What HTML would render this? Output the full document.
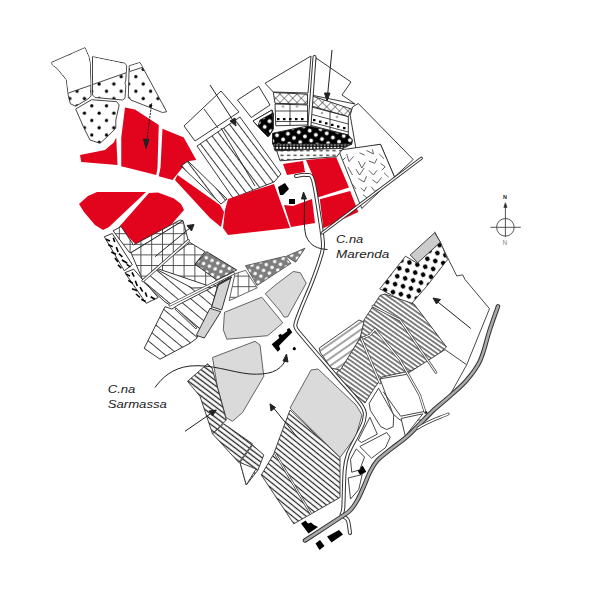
<!DOCTYPE html>
<html><head><meta charset="utf-8">
<style>
html,body{margin:0;padding:0;background:#fff;width:600px;height:600px;overflow:hidden}
svg{display:block}
text{font-family:"Liberation Sans",sans-serif;font-style:italic}
</style></head><body>
<svg width="600" height="600" viewBox="0 0 600 600">
<defs>
<pattern id="dots" width="14.7" height="14.6" patternUnits="userSpaceOnUse">
<rect width="14.7" height="14.6" fill="#fff"/>
<circle cx="3.6" cy="3.6" r="1.65" fill="#000"/><circle cx="10.95" cy="10.9" r="1.65" fill="#000"/>
</pattern>
<pattern id="stripes" width="7" height="7" patternUnits="userSpaceOnUse" patternTransform="rotate(53)">
<rect width="7" height="7" fill="#fff"/>
<line x1="0" y1="3.5" x2="7" y2="3.5" stroke="#222" stroke-width="0.9"/>
</pattern>
<pattern id="xhatch" width="6" height="6" patternUnits="userSpaceOnUse" patternTransform="rotate(45)">
<rect width="6" height="6" fill="#fff"/>
<line x1="0" y1="0" x2="6" y2="0" stroke="#222" stroke-width="1"/>
<line x1="0" y1="0" x2="0" y2="6" stroke="#222" stroke-width="1"/>
</pattern>
<pattern id="bdots" width="11" height="10" patternUnits="userSpaceOnUse" patternTransform="rotate(-8)">
<rect width="11" height="10" fill="#000"/>
<circle cx="2.5" cy="2.5" r="1.9" fill="#fff"/><circle cx="8" cy="7.5" r="1.9" fill="#fff"/>
</pattern>
<pattern id="checker" width="3.4" height="3.4" patternUnits="userSpaceOnUse">
<rect width="3.4" height="3.4" fill="#111"/>
<circle cx="1.7" cy="1.7" r="1.15" fill="#fff"/>
</pattern>
<pattern id="dashes" width="6.5" height="4.5" patternUnits="userSpaceOnUse">
<rect width="6.5" height="4.5" fill="#fff"/>
<rect x="1" y="1.6" width="3.2" height="1.3" fill="#333"/>
</pattern>
<pattern id="sq" width="6" height="10" patternUnits="userSpaceOnUse">
<rect width="6" height="10" fill="#fff"/>
<rect x="1" y="4" width="3" height="2.2" fill="#000"/>
</pattern>
<pattern id="grid" width="10.8" height="10.6" patternUnits="userSpaceOnUse">
<rect width="10.8" height="10.6" fill="#fff"/>
<line x1="0.5" y1="0" x2="0.5" y2="10.6" stroke="#444" stroke-width="0.9"/>
<line x1="0" y1="0.5" x2="10.8" y2="0.5" stroke="#444" stroke-width="0.9"/>
</pattern>
<pattern id="gdots" width="9" height="9" patternUnits="userSpaceOnUse" patternTransform="rotate(-20)">
<rect width="9" height="9" fill="#7d7d7d"/>
<circle cx="2.2" cy="2.2" r="1.8" fill="#fff"/><circle cx="6.7" cy="6.7" r="1.8" fill="#fff"/>
</pattern>
<pattern id="bdash" width="7" height="10" patternUnits="userSpaceOnUse" patternTransform="rotate(57)">
<rect width="7" height="10" fill="#fff"/>
<path d="M0.8,1.5 l4.2,0.8 M3.5,5.5 l0.3,4 M0.5,8 l2,-2.5" stroke="#000" stroke-width="1.6" stroke-linecap="butt"/>
</pattern>
<pattern id="vpat" width="12" height="12" patternUnits="userSpaceOnUse">
<rect width="12" height="12" fill="#fff"/>
<path d="M1,2 l2,4 l2,-4 M7,8 l2,3 l2,-4" stroke="#222" stroke-width="0.8" fill="none"/>
</pattern>
<pattern id="stripes2" width="3.7" height="3.7" patternUnits="userSpaceOnUse" patternTransform="rotate(35)">
<rect width="3.7" height="3.7" fill="#fff"/>
<rect x="0" y="1.25" width="3.7" height="1.1" fill="#222"/>
</pattern>
<pattern id="stripes3" width="4.3" height="4.3" patternUnits="userSpaceOnUse" patternTransform="rotate(39)">
<rect width="4.3" height="4.3" fill="#fff"/>
<rect x="0" y="1.55" width="4.3" height="1.2" fill="#222"/>
</pattern>
<pattern id="stripes4" width="4.2" height="4.2" patternUnits="userSpaceOnUse" patternTransform="rotate(37)">
<rect width="4.2" height="4.2" fill="#fff"/>
<rect x="0" y="1.4" width="4.2" height="1.3" fill="#222"/>
</pattern>
<pattern id="dots2" width="11.6" height="11.6" patternUnits="userSpaceOnUse" patternTransform="rotate(-30)">
<rect width="11.6" height="11.6" fill="#fff"/>
<circle cx="2.9" cy="2.9" r="2.3" fill="#000"/><circle cx="8.7" cy="8.7" r="2.3" fill="#000"/>
</pattern>
<pattern id="stripes5" width="6" height="6" patternUnits="userSpaceOnUse" patternTransform="rotate(-35)">
<rect width="6" height="6" fill="#fff"/>
<line x1="0" y1="3" x2="6" y2="3" stroke="#333" stroke-width="0.9"/>
</pattern>
<pattern id="stripes6" width="8.5" height="8.5" patternUnits="userSpaceOnUse" patternTransform="rotate(40)">
<rect width="8.5" height="8.5" fill="#fff"/>
<line x1="0" y1="4.25" x2="8.5" y2="4.25" stroke="#333" stroke-width="0.9"/>
</pattern>
</defs>
<rect width="600" height="600" fill="#fff"/>
<g stroke="#333" stroke-width="0.9" stroke-linejoin="round">
<polygon fill="url(#dots)" points="51.7,62.3 85,47.7 89,57 90.3,63.7 91,95.7 89,98.3 75.7,106.3 70.3,103.7 68.3,95.7 66.3,79.7 57,68.3 52.3,65"/>
<polygon fill="url(#dots)" points="92.5,56.7 125,63.3 126.7,65.8 125.8,80 125,83.3 125.8,85.8 125,98.3 122.5,100 95,97.5 92.5,95"/>
<polygon fill="url(#dots)" points="129.2,65.8 140,62.5 166.7,111.7 162.5,112.5 130.8,100 128.3,97.5"/>
<polygon fill="url(#dots)" points="75.7,109 91.7,99.7 116.7,101.7 119.2,105 115.8,120 115.8,128.3 108.3,135.8 100,143.3 90,140 83.7,127.5"/>
</g>
<g stroke="none" fill="#fff">
<polygon points="52.2,62.8 84.7,48.3 88.5,57 89.8,63.7 90.5,85.5 68.6,92.8 66.8,79.7 57.4,68 52.8,65"/>
<polygon points="93,57.2 124.6,63.8 126.2,65.9 125.3,72.9 93,84.4"/>
<polygon points="129.7,66.2 139.7,63.1 142.3,67.5 130.2,71.4"/>
</g>
<g stroke="#333" stroke-width="0.9">
<line x1="68.5" y1="93" x2="91" y2="85.2"/>
<line x1="92.5" y1="84.6" x2="126" y2="72.8"/>
<line x1="129.5" y1="71.6" x2="142.5" y2="67.3"/>
</g>
<g fill="#e2031c" stroke="none">
<!-- R1 -->
<polygon points="80,155 105,150 113.75,142.5 116.25,137.5 117.5,165 81.25,162"/>
<!-- R2 -->
<polygon points="125,107.5 135,109.5 158.75,125 157.5,167.5 156.25,175 121.25,166.25 121.25,137.5"/>
<!-- R3 -->
<polygon points="162.5,128.75 183.75,137.5 196.25,160 187.5,161.25 172.5,180 158.75,176.25 160.5,167.5"/>
<!-- R10 -->
<polygon points="79,204 88,196 97,192 146,192 109,227 103,230 95,225 84,212"/>
<!-- R11 -->
<polygon points="119,227 149,193 158,192.5 174,198.5 181,204 184,210 170,226 136,245"/>
</g>
<g stroke="#222" stroke-width="1" fill="none">
<line x1="151.7" y1="103.3" x2="146" y2="146" stroke-dasharray="2.2,1"/>
<polygon points="143.5,139 146,148.5 149,139.5" fill="#222"/>
</g>
<g stroke="#222" stroke-width="0.9" stroke-linejoin="round">
<!-- W pair -->
<polygon fill="#fff" points="184,126 221,91 239,112 195,141"/>
<line x1="204" y1="109" x2="218" y2="128"/>
<!-- S1 striped -->
<polygon fill="url(#stripes)" points="197,146 240,117 281,174 274,182 233,198"/>
<line x1="221" y1="128" x2="255" y2="186"/>
<!-- S2 strip -->
<polygon fill="url(#stripes)" points="181,166 188,161 227,199 221,204"/>
<!-- W top3 -->
<polygon fill="#fff" points="237.5,100 258.75,86.25 270,105 251.25,117.5"/>
<!-- black small parcel -->
<polygon fill="#000" points="253,121 272,110 273.5,114 273,130 268,137 262,131"/>
<polygon fill="#fff" points="253,121 272,110 272.5,117 258,126"/>
<!-- W big -->
<polygon fill="#fff" points="265,83.3 311,56 308,93 273.3,92"/>
<polygon fill="#fff" points="316,58 351,82 342,95 355,104 311,95"/>
<!-- W big right -->
<polygon fill="#fff" points="358.3,103.5 413.2,159.5 394.5,177 380.5,144.3 356,149 350.2,115.2 352.5,107"/>
<polygon fill="#fff" points="338.5,150.2 380.5,144.3 394.5,177 361.8,208.5"/>
<path d="M346.7,154.0 L349.0,161.6 L353.7,156.3 M359.5,152.8 L364.8,155.2 M366.5,150.5 L373.5,154.0 L372.3,149.3 M358.3,161.0 L361.8,168.0 L365.3,162.2 M368.8,161.0 L374.7,163.3 L377.0,158.7 M379.3,154.0 L384.0,158.7 M347.8,166.8 L352.5,175.0 M356.0,169.2 L359.5,175.0 L364.2,168.0 M368.8,170.3 L373.5,175.0 L377.0,170.3 M380.5,163.3 L385.2,166.8 L381.7,170.3 M358.3,178.5 L364.2,182.0 L366.5,176.2 M372.3,179.7 L377.0,183.2 L381.7,177.3 M384.0,172.7 L388.7,177.3 M360.7,187.8 L364.2,191.3 L366.5,186.7 M371.2,186.7 L374.7,191.3 L379.3,189.0 M363.0,194.8 L367.7,198.3 M342.0,161.0 L345.5,157.5 M352.5,184.3 L356.0,189.0" stroke="#555" stroke-width="0.9" fill="none"/>
</g>
<g fill="#e2031c" stroke="none">
<!-- R4 strip -->
<polygon points="177.5,175 220,205 224,212 221,227 210,218 175,180"/>
<!-- R12 -->
<polygon points="228,199 274,184 290,228 228,235 223,228 225,210"/>
<!-- R9 -->
<polygon points="284,205 293,206 301,203 312,199 315,223 291,227"/>
<!-- R13 -->
<polygon points="283,164 303,161 305,172 287,175"/>
<!-- R6 -->
<polygon points="306,160 336.2,157.2 349,187.5 316,198 312,174"/>
<!-- R7 -->
<polygon points="319.8,199.2 350.2,191 358.3,212 323.3,228.3"/>
</g>
<g fill="#000">
<polygon points="278,187 285,183 289,189 283,195 280,195"/>
<rect x="289" y="199" width="6" height="5"/>
</g>
<g stroke="#222" stroke-width="1" fill="none">
<line x1="210" y1="85" x2="234" y2="122"/>
<polygon points="230,121 236,126 235,118" fill="#222"/>
</g>
<g stroke="#222" stroke-width="0.9" stroke-linejoin="round">
<polygon fill="url(#xhatch)" points="273.3,92.5 307.5,94.2 307.5,104.2 275,103.3"/>
<polygon fill="url(#xhatch)" points="311.7,95.8 351.7,109.2 348.3,116.7 310.8,105.8"/>
<polygon fill="#fff" points="275,104 307.5,105 307.5,125 275.8,125.8"/>
<polygon fill="#fff" points="310.8,106.7 348.3,116.7 348.3,135 309.2,125"/>
<polygon fill="url(#bdots)" points="272.5,133.3 308.3,125.8 348.3,135 352.5,140 351.7,144.2 272.5,144.2"/>
<polygon fill="url(#checker)" points="273.3,144.2 351.7,144.2 343.3,148.3 275,150.8"/>
<polygon fill="url(#dashes)" points="276.7,150.8 343.3,148.3 336.7,156.7 280,160.8"/>
<polygon fill="url(#bdots)" points="260,120 272.5,113.3 273.3,128.3 269.2,135.8 258,126"/>
</g>
<g stroke="#222" stroke-width="0.8">
<line x1="275.5" y1="111" x2="307.5" y2="111"/>
<line x1="275.8" y1="121.5" x2="307.5" y2="121.5"/>
<line x1="290" y1="104" x2="290" y2="125"/>
<line x1="310" y1="114" x2="348.3" y2="124"/>
<line x1="310" y1="122" x2="348.3" y2="132"/>
<line x1="330" y1="111" x2="330" y2="130"/>
</g>
<g fill="#000">
<rect x="277" y="118" width="2.5" height="2.2"/><rect x="283" y="118" width="2.5" height="2.2"/><rect x="289" y="118" width="2.5" height="2.2"/><rect x="295" y="118" width="2.5" height="2.2"/><rect x="301" y="118" width="2.5" height="2.2"/>
<rect x="313" y="119" width="2.5" height="2.2"/><rect x="319" y="120.6" width="2.5" height="2.2"/><rect x="325" y="122.2" width="2.5" height="2.2"/><rect x="331" y="123.8" width="2.5" height="2.2"/><rect x="337" y="125.4" width="2.5" height="2.2"/><rect x="343" y="127" width="2.5" height="2.2"/>
</g>
<g fill="#aaa">
<circle cx="283" cy="106.5" r="1.3"/><circle cx="297" cy="106.5" r="1.3"/><circle cx="322" cy="113" r="1.3"/><circle cx="337" cy="117" r="1.3"/>
</g>
<g stroke="#222" stroke-width="0.9" stroke-linejoin="round">
<polygon fill="#fff" points="104.3,236.7 112.3,233.5 132.3,264.7 124.3,270.8"/>
<polygon fill="#fff" points="124.9,272.7 133.7,269.2 158.2,297.5 146.2,303.3"/>
<polygon fill="url(#grid)" points="113.1,230.8 121.1,226.5 133.5,245 180,220 183,220.7 131,252.7 129.1,252.1"/>
<polygon fill="url(#grid)" points="131.0,252.7 183.0,220.7 188.3,240.7 143.0,280.7"/>
<polygon fill="url(#grid)" points="155.8,268 190,242.5 205,251.7 195,264.2 216.7,278.3 213.3,287.5"/>
<polygon fill="url(#gdots)" points="195,264.2 206.7,251.7 236.7,270 216.7,280"/>
<polygon fill="url(#stripes6)" points="143.3,281.7 155,268.5 192,288 215,287.5 232,275 170,305 165,302"/>
<polygon fill="url(#stripes6)" points="144.2,348.3 165,306.7 172,309 178,305 232,277 218.3,283.3 211.7,307.5 196.7,338.3 190,343.3 160,359.2"/>
<polygon fill="#d4d4d4" points="218.3,285 230.8,278.3 221.7,310 211.7,306.7"/>
<polygon fill="#d4d4d4" points="210,308.3 220.8,311.7 204.3,338.0 196.3,335.3"/>
</g>
<path d="M106.0,239.3 L110.0,240.9 M113.3,237.7 L114.7,242.0 M108.3,244.7 L112.7,246.7 M116.3,247.1 L118.1,252.0 M111.3,252.0 L116.0,254.3 M118.9,253.7 L122.4,256.9 M114.9,258.0 L118.1,262.0 M122.0,260.0 L127.3,263.3 M118.0,264.7 L121.3,268.3 M126.7,264.4 L130.4,266.8 M126.0,274.0 L130.1,276.1 M132.0,272.4 L134.1,276.7 M128.3,280.4 L132.8,283.3 M135.3,280.7 L137.3,286.0 M132.0,288.7 L137.3,290.8 M140.0,287.1 L142.7,291.6 M136.0,294.0 L140.0,297.5 M145.3,292.4 L146.9,296.7 M141.3,299.3 L145.6,301.5 M150.7,296.7 L154.9,299.3" stroke="#000" stroke-width="1.6" fill="none"/>
<g fill="none" stroke-linecap="round">
<path d="M170,305 L233.3,273.3" stroke="#444" stroke-width="3"/>
<path d="M170,305 L233.3,273.3" stroke="#fff" stroke-width="1.5"/>
<path d="M176,309 L196,328" stroke="#444" stroke-width="2.4"/>
<path d="M176,309 L196,328" stroke="#fff" stroke-width="1"/>
<path d="M143,280.7 L188.3,240.7" stroke="#444" stroke-width="3"/>
<path d="M143,280.7 L188.3,240.7" stroke="#fff" stroke-width="1.5"/>
</g>
<g stroke="#222" stroke-width="1" fill="none">
<line x1="155" y1="256.7" x2="190" y2="228"/>
<polygon points="187,225.5 194,224.5 191.5,231" fill="#222"/>
</g>
<g stroke="#555" stroke-width="0.9" stroke-linejoin="round">
<polygon fill="url(#gdots)" points="245.5,265.7 285.2,256.3 291,263.3 257.2,285.5"/>
<polygon fill="url(#gdots)" points="286.3,256.3 305,248.2 295.7,262.2"/>
<polygon fill="url(#grid)" points="235,273.8 245.5,270.3 257.2,287.8 229.2,300.7"/>
<polygon fill="#dadada" points="265.3,293.7 274.7,285.5 293.3,271.5 300.3,272.7 306.2,283.2 287.5,317.0 284.0,317.0 279.3,310.0"/>
<polygon fill="#dadada" points="224.5,312.3 261.8,297.2 282.8,322.8 267.7,335.7 226.8,339.2 223.3,329.8"/>
<polygon fill="#dadada" points="212.5,357.5 255,341.3 260,345 263.8,376.3 242.5,412.5 232.5,421.3 226,417.5 217.5,387.5"/>
<polygon fill="#dadada" points="290,408 311,370 318,369 356,405 362,415 356,436 340,457.5"/>
</g>
<g fill="#000">
<polygon points="271.7,344.3 279.3,338 278.3,335.3 280.7,333.7 282,335 287.3,331.3 287,329.3 289.3,328 292.3,332.3 279,345.7 280.3,349.3 277.7,351.7"/>
<circle cx="294.3" cy="348.7" r="1.6"/>
<polygon points="301,523.5 305.5,520.5 308,523.5 311,522.5 314,525 318,527 308.5,533.5"/>
<polygon points="327,536.5 330,535 339,530 343,534.5 331.5,542.5"/>
<polygon points="315.5,543.5 320,540 324.5,546 319.5,550"/>
<rect x="358" y="467" width="7" height="7" transform="rotate(-30 361.5 470.5)"/>
</g>
<g stroke="#333" stroke-width="0.9" stroke-linejoin="round">
<polyline fill="none" points="434.7,231.7 447.5,257.3 456.8,276.0 462.7,274.8 465.0,279.5 489.5,308.7 466.7,364.8"/>
<polygon fill="#ccc" points="410.2,255.0 434.7,232.8 440.5,242.2 418.3,263.2"/>
<polygon fill="url(#dots2)" points="379.8,288.8 405.5,256.2 417.2,263.2 440.5,242.2 447.5,259.7 426.5,286.5 410.2,305.2"/>
<polygon fill="url(#stripes2)" points="336,374 348,356 360,338 364,320 380,295.5 385,294 414,304 446.5,347 427,364 410,371 382,377 373,390 365,403 352,392"/>
<polygon fill="url(#stripes5)" points="319.3,348 359,320 364,322 360,338 340.3,370.2 331,368 320,352"/>
<polygon fill="#fff" points="380,378.8 406,374.5 445,349.6 466.7,364.8 449.3,396.2 426.6,420 400,420 393,414"/>
<polygon fill="url(#stripes3)" points="261.3,475 273.8,453.8 278.8,440 290,410 340,457.5 340,497.5 293.8,523.8"/>
<path d="M275,453 L311,514" stroke="#444" stroke-width="2.4" fill="none"/>
<path d="M275,453 L311,514" stroke="#fff" stroke-width="1" fill="none"/>
<polygon fill="url(#stripes4)" points="187.5,381.3 207.5,363.8 212,368 217.5,387.5 226.3,420 212.5,433.8 200,396.3"/>
<polygon fill="url(#stripes4)" points="212.5,433.8 223.8,423.8 252.5,443.8 238.8,462.5"/>
<polygon fill="url(#stripes4)" points="240,462.5 252.5,445 263.8,455 258,470 246.3,485"/>
<polygon fill="#fff" points="240,462.5 256,469 246.3,485"/>
</g>
<g fill="none" stroke-linecap="round">
<path d="M372.9,306 L400,320 L436,372.5" stroke="#444" stroke-width="2.6"/>
<path d="M372.9,306 L400,320 L436,372.5" stroke="#fff" stroke-width="1.2"/>
<path d="M361.3,338.7 L370,335 L375,329.3 L400,360 L419.7,395 L425,412" stroke="#444" stroke-width="2.6"/>
<path d="M361.3,338.7 L370,335 L375,329.3 L400,360 L419.7,395 L425,412" stroke="#fff" stroke-width="1.2"/>
<path d="M361.3,338.7 L380,383" stroke="#444" stroke-width="2.6"/>
<path d="M361.3,338.7 L380,383" stroke="#fff" stroke-width="1.2"/>
</g>
<g stroke="#333" stroke-width="0.9" fill="none" stroke-linejoin="round">
<polygon fill="#fff" points="369.2,403.3 378.5,388.2 393.7,415.0 393.2,426.7 386.7,429.5 380.8,426.7 370.3,410.3"/>
<polygon fill="#fff" points="358.2,440.2 369.9,417.3 377.3,434.1 361.5,442.5"/>
<polygon fill="#fff" points="359.8,446.5 386.7,432.5 390.2,437.2 385.5,447.7 371.5,458.2"/>
<polygon fill="#fff" points="350.5,459.3 356.3,448.8 364.5,457.0 359.8,469.8 351.7,472.2"/>
<polygon fill="#fff" points="401.1,418.5 422.8,413.8 405.3,436.0"/>
<polyline fill="none" points="383.2,391.7 400.7,416.2 424,411.5"/>
<circle cx="426" cy="412.5" r="1" fill="#000"/>
<polygon fill="#fff" points="348.2,478.0 362.2,474.5 358.7,489.7 350.5,499.0"/>
</g>
<g fill="none" stroke-linecap="round" stroke-linejoin="round">
<!-- main road double line -->
<path d="M296.0,176.0 C297.7,175.8 303.2,174.3 306.0,175.0 C308.8,175.7 310.7,172.5 313.0,180.0 C315.3,187.5 318.3,209.3 320.0,220.0 C321.7,230.7 322.8,238.0 323.0,244.0 C323.2,250.0 322.8,249.7 321.0,256.0 C319.2,262.3 315.2,273.7 312.0,282.0 C308.8,290.3 304.7,299.3 302.0,306.0 C299.3,312.7 297.0,318.3 296.0,322.0 C295.0,325.7 295.0,325.7 296.0,328.0 C297.0,330.3 295.1,327.7 302.0,336.0 C308.9,344.3 327.7,366.0 337.7,377.7 C347.7,389.4 357.6,398.9 362.0,406.0 C366.4,413.1 364.7,415.3 364.0,420.0 C363.3,424.7 360.7,428.3 358.0,434.0 C355.3,439.7 350.2,448.0 348.0,454.0 C345.8,460.0 345.5,461.1 344.7,470.0 C343.9,478.9 343.8,500.0 343.3,507.5 C342.8,515.0 341.0,512.9 341.7,515.0 C342.4,517.1 346.3,517.0 347.7,520.0 C349.1,523.0 349.6,530.8 350.0,533.0" stroke="#333" stroke-width="4"/>
<path d="M296.0,176.0 C297.7,175.8 303.2,174.3 306.0,175.0 C308.8,175.7 310.7,172.5 313.0,180.0 C315.3,187.5 318.3,209.3 320.0,220.0 C321.7,230.7 322.8,238.0 323.0,244.0 C323.2,250.0 322.8,249.7 321.0,256.0 C319.2,262.3 315.2,273.7 312.0,282.0 C308.8,290.3 304.7,299.3 302.0,306.0 C299.3,312.7 297.0,318.3 296.0,322.0 C295.0,325.7 295.0,325.7 296.0,328.0 C297.0,330.3 295.1,327.7 302.0,336.0 C308.9,344.3 327.7,366.0 337.7,377.7 C347.7,389.4 357.6,398.9 362.0,406.0 C366.4,413.1 364.7,415.3 364.0,420.0 C363.3,424.7 360.7,428.3 358.0,434.0 C355.3,439.7 350.2,448.0 348.0,454.0 C345.8,460.0 345.5,461.1 344.7,470.0 C343.9,478.9 343.8,500.0 343.3,507.5 C342.8,515.0 341.0,512.9 341.7,515.0 C342.4,517.1 346.3,517.0 347.7,520.0 C349.1,523.0 349.6,530.8 350.0,533.0" stroke="#fff" stroke-width="2"/>
<!-- top vertical road -->
<path d="M314.5,57 L309.5,125" stroke="#333" stroke-width="4"/>
<path d="M314.5,57 L309.5,125" stroke="#fff" stroke-width="2"/>
<!-- NE road -->
<path d="M421.3,158.3 L322.2,233" stroke="#333" stroke-width="3.2"/>
<path d="M421.3,158.3 L322.2,233" stroke="#fff" stroke-width="1.4"/>
<!-- gray big road -->
<path d="M498.0,306.3 C496.6,310.2 492.7,320.9 489.7,330.0 C486.7,339.1 484.1,352.2 480.1,360.7 C476.2,369.2 471.1,375.1 466.0,381.0 C460.9,386.9 455.1,391.4 449.7,396.3 C444.2,401.2 438.0,406.0 433.3,410.3 C428.6,414.6 426.0,417.7 421.7,422.0 C417.4,426.3 412.8,431.5 407.7,436.0 C402.6,440.5 396.4,444.7 391.3,448.8 C386.2,452.9 380.9,456.6 377.3,460.5 C373.8,464.4 372.2,467.8 370.0,472.0 C367.8,476.2 366.1,481.3 364.0,486.0 C361.9,490.7 359.8,495.9 357.5,500.0 C355.2,504.1 353.0,507.5 350.0,510.5 C347.0,513.5 347.0,513.0 339.5,518.0 C332.0,523.0 310.8,536.8 305.0,540.5" stroke="#333" stroke-width="4.5"/>
<path d="M498.0,306.3 C496.6,310.2 492.7,320.9 489.7,330.0 C486.7,339.1 484.1,352.2 480.1,360.7 C476.2,369.2 471.1,375.1 466.0,381.0 C460.9,386.9 455.1,391.4 449.7,396.3 C444.2,401.2 438.0,406.0 433.3,410.3 C428.6,414.6 426.0,417.7 421.7,422.0 C417.4,426.3 412.8,431.5 407.7,436.0 C402.6,440.5 396.4,444.7 391.3,448.8 C386.2,452.9 380.9,456.6 377.3,460.5 C373.8,464.4 372.2,467.8 370.0,472.0 C367.8,476.2 366.1,481.3 364.0,486.0 C361.9,490.7 359.8,495.9 357.5,500.0 C355.2,504.1 353.0,507.5 350.0,510.5 C347.0,513.5 347.0,513.0 339.5,518.0 C332.0,523.0 310.8,536.8 305.0,540.5" stroke="#aaa" stroke-width="2.5"/>
<path d="M418,428 C430,420 442,417 448,414" stroke="#333" stroke-width="3"/>
<path d="M418,428 C430,420 442,417 448,414" stroke="#fff" stroke-width="1.4"/>
</g>
<g stroke="#222" stroke-width="1" fill="none">
<!-- Marenda arrow -->
<path d="M327.5,249.5 C318,249 310,246 306,236 C303,225 305,212 304.5,198"/>
<polygon points="301.5,199 303.5,192 306.5,199" fill="#222"/>
<!-- Sarmassa arrow -->
<path d="M155,387.5 C162,378 172,368 190,366 C212,364 230,372 250,374 C268,375 280,372 285.5,360"/>
<polygon points="283,361 286.5,354 288,362" fill="#222"/>
<!-- top-right arrow -->
<line x1="332" y1="50" x2="327.5" y2="96"/>
<polygon points="324.5,93 327,101 330,93" fill="#222"/>
<!-- right arrow -->
<line x1="470.8" y1="328.5" x2="436" y2="300.5"/>
<polygon points="433,298 440.5,299.5 436.5,304" fill="#222"/>
<!-- SL arrow -->
<line x1="185" y1="431.3" x2="213" y2="412"/>
<polygon points="216.3,410 209,411 212.5,416" fill="#222"/>
<!-- center arrow -->
<line x1="297.5" y1="437.5" x2="272" y2="406"/>
<polygon points="270,403.8 271,411 275.5,407.5" fill="#222"/>
</g>
<!-- compass -->
<g stroke="#444" stroke-width="0.9" fill="none">
<circle cx="505.4" cy="227.3" r="8.8"/>
<line x1="490.5" y1="227.3" x2="520.8" y2="227.3"/>
<line x1="505.4" y1="206" x2="505.4" y2="237.2"/>
<polygon points="503.9,207.4 505.4,202.8 507,207.4" fill="#222"/>
</g>
<text x="503" y="199" style="font-style:normal;font-weight:bold" font-size="5.5" fill="#222">N</text>
<text x="502.6" y="245" style="font-style:normal" font-size="6.5" fill="#888">N</text>
<g fill="#222" font-size="11">
<text x="336" y="243" textLength="27.3" lengthAdjust="spacingAndGlyphs">C.na</text>
<text x="336" y="257.7" textLength="53.3" lengthAdjust="spacingAndGlyphs">Marenda</text>
<text x="107.7" y="393.2" textLength="27.7" lengthAdjust="spacingAndGlyphs">C.na</text>
<text x="107.7" y="407.5" textLength="59.2" lengthAdjust="spacingAndGlyphs">Sarmassa</text>
</g>
</svg>
</body></html>
